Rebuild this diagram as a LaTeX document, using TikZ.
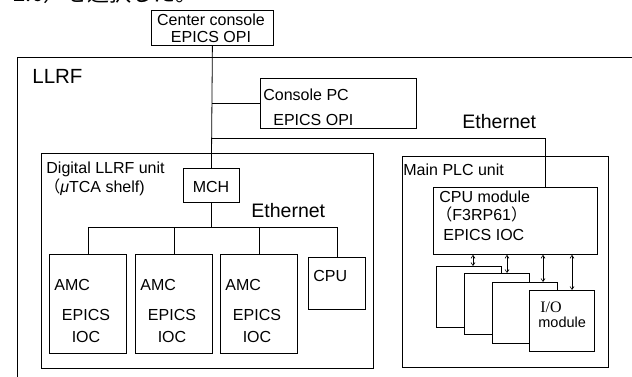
\documentclass[tikz,border=0pt]{standalone}
\usepackage{fontspec}
\setmainfont{Liberation Sans}
\newfontfamily\cjk{Noto Sans CJK JP}
\newfontfamily\mincho{Liberation Serif}
\usetikzlibrary{positioning,arrows.meta}

\tikzset{
  box/.style={draw, inner sep=0pt, anchor=north west},
  iobox/.style={box, fill=white, minimum width=65pt, minimum height=61pt},
  txt/.style={inner sep=0pt, anchor=base west, font=\fontsize{16}{18}\selectfont},
  ctxt/.style={txt, anchor=base},
  bigtxt/.style={txt, font=\fontsize{19.5}{22}\selectfont},
}

\begin{document}
\begin{tikzpicture}[x=1pt, y=-1pt, line width=0.8pt, >={Straight Barb[length=3pt,width=4pt]}]
\clip (0,0) rectangle (632,376);
% last line of the text above, cut by the page
\node[inner sep=0pt, anchor=base west, font=\cjk\fontsize{22}{24}\selectfont] (head) at (13,1.5) {2.6）を選択した。};

% frames
\node[box, minimum width=640pt, minimum height=340pt] (llrf) at (16.7,57) {};
\node[txt, font=\fontsize{20.5}{24}\selectfont] (llrft) at (32,83) {LLRF};
\node[box, minimum width=122pt, minimum height=35pt] (cc) at (151,10) {};
\node[ctxt] (cct1) at (211,25) {Center console};
\node[ctxt] (cct2) at (211,42.5) {EPICS OPI};
\node[box, minimum width=156pt, minimum height=50pt] (pc) at (260,78) {};
\node[txt] (pct1) at (263,100) {Console PC};
\node[txt] (pct2) at (273,125) {EPICS OPI};
\node[bigtxt] (eth1) at (462,128) {Ethernet};

% digital LLRF unit
\node[box, minimum width=332.3pt, minimum height=215pt] (dig) at (40.7,153) {};
\node[txt] (digt1) at (46,173) {Digital LLRF unit};
\node[txt] (digt2) at (44,192) {{\cjk （}\textit{μ}TCA shelf)};
\node[box, minimum width=56pt, minimum height=34pt] (mch) at (183,168) {};
\node[ctxt] (mcht) at (211,192) {MCH};
\node[bigtxt] (eth2) at (251,217) {Ethernet};
\foreach \i/\x in {1/49, 2/135, 3/220} {
  \node[box, minimum width=77pt, minimum height=99pt] (amc\i) at (\x,254) {};
  \node[txt] (amct\i) at (\x+5,290) {AMC};
  \node[ctxt] (epics\i) at (\x+37,320) {EPICS};
  \node[ctxt] (ioc\i) at (\x+37,342) {IOC};
}
\node[box, minimum width=57pt, minimum height=52pt] (cpu) at (308,257) {};
\node[txt] (cput) at (313,281) {CPU};

% main PLC unit
\node[box, minimum width=206pt, minimum height=211pt] (plc) at (402,156) {};
\node[txt] (plct) at (403,175) {Main PLC unit};
\node[box, minimum width=164pt, minimum height=67pt] (cpum) at (433,187) {};
\node[txt] (cpumt1) at (439,202) {CPU module};
\node[txt] (cpumt2) at (436,220) {{\cjk （}F3RP61{\cjk ）}};
\node[txt] (cpumt3) at (443,240) {EPICS IOC};
\node[iobox] (io1) at (436,266) {};
\node[iobox] (io2) at (464,273) {};
\node[iobox] (io3) at (492,282) {};
\node[iobox] (io4) at (529,290) {};
\node[txt] (iot1) at (540,312) {\mincho I/O};
\node[txt, font=\fontsize{14.5}{17}\selectfont] (iot2) at (538,327) {module};

% network
\draw (cc.south) -- (mch.north);
\draw (cc.south |- pc.west) -- (pc.west);
\coordinate (ethr) at (545,138);
\draw (cc.south |- ethr) -- (ethr) -- (cpum.north -| ethr);
\coordinate (bus) at (212,227);
\draw (mch.south) -- (mch.south |- bus);
\draw (amc1.north |- bus) -- (cpu.north |- bus);
\foreach \n in {amc1,amc2,amc3,cpu}
  \draw (\n.north) -- (\n.north |- bus);
\foreach \n/\x in {io1/473, io2/507, io3/543, io4/572} {
  \coordinate (a\n) at (\x,0);
  \draw[<->, line width=0.6pt] (cpum.south -| a\n) -- (\n.north -| a\n);
}
\end{tikzpicture}
\end{document}
